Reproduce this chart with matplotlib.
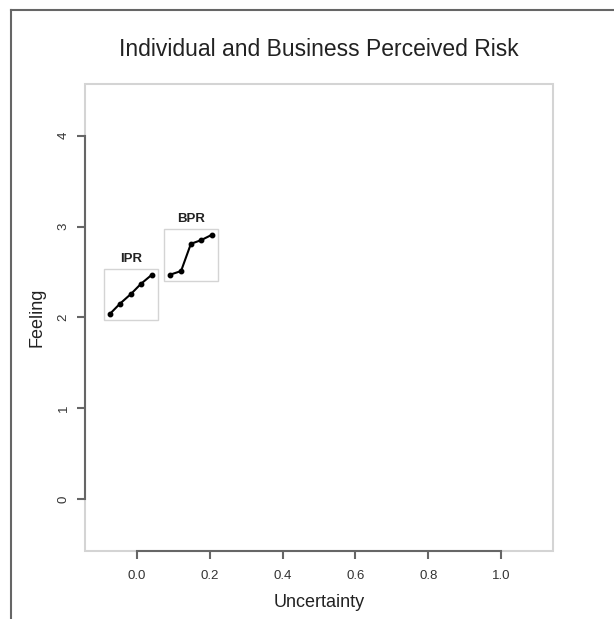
import matplotlib
matplotlib.use("Agg")
import matplotlib.pyplot as plt
from matplotlib.patches import Rectangle
from matplotlib.lines import Line2D

plt.rcParams["font.family"] = ["Liberation Sans", "DejaVu Sans"]

# mini-series drawn inside the main plot (uncertainty vs feeling)
groups = ["IPR", "BPR"]
ipr_x = [-0.074, -0.047, -0.016, 0.011, 0.041]
ipr_y = [2.04, 2.15, 2.26, 2.37, 2.47]
bpr_x = [0.091, 0.121, 0.148, 0.176, 0.206]
bpr_y = [2.47, 2.51, 2.81, 2.85, 2.91]
series_x = [ipr_x, bpr_x]
series_y = [ipr_y, bpr_y]

x_ticks = [0.0, 0.2, 0.4, 0.6, 0.8, 1.0]
y_ticks = [0, 1, 2, 3, 4]

fig = plt.figure(figsize=(6.14, 6.19), dpi=100)
ax = fig.add_axes([0.1384, 0.1099, 0.7623, 0.7544])
ax.set_xlim(-0.143, 1.143)
ax.set_ylim(-0.573, 4.57)

axis_col = "#666666"
box_col = "#d4d4d4"

# light plot box
for s in ax.spines.values():
    s.set_visible(False)
ax.add_patch(Rectangle((0, 0), 1, 1, transform=ax.transAxes, fill=False,
                       edgecolor=box_col, lw=1.5, zorder=1, clip_on=False))
# R-style axes covering tick range only
ax.spines["left"].set_visible(True)
ax.spines["bottom"].set_visible(True)
ax.spines["left"].set_bounds(y_ticks[0], y_ticks[-1])
ax.spines["bottom"].set_bounds(x_ticks[0], x_ticks[-1])
for side in ["left", "bottom"]:
    ax.spines[side].set_color(axis_col)
    ax.spines[side].set_linewidth(1.5)
    ax.spines[side].set_zorder(3)

ax.set_xticks(x_ticks)
ax.set_xticklabels([f"{v:.1f}" for v in x_ticks])
ax.set_yticks(y_ticks)
ax.set_yticklabels([str(v) for v in y_ticks], rotation=90, va="center")
ax.tick_params(axis="both", length=6, width=1.5, color=axis_col,
               labelsize=9.5, labelcolor="#333333")
ax.tick_params(axis="x", pad=8)
ax.tick_params(axis="y", pad=5)

for name, xs, ys in zip(groups, series_x, series_y):
    padx, pady = 0.016, 0.065
    x0, x1 = min(xs) - padx, max(xs) + padx
    y0, y1 = min(ys) - pady, max(ys) + pady
    ax.add_patch(Rectangle((x0, y0), x1 - x0, y1 - y0, fill=False,
                           edgecolor=box_col, lw=1.0, zorder=2))
    ax.plot(xs, ys, color="black", lw=1.5, marker="o", ms=3.2, zorder=4)
    ax.text((x0 + x1) / 2, y1 + 0.04, name, ha="center", va="bottom",
            fontsize=9.5, fontweight="bold", color="#222222")

ax.set_title("Individual and Business Perceived Risk", fontsize=16.5,
             pad=20, color="#222222")
ax.set_xlabel("Uncertainty", fontsize=13, labelpad=8, color="#222222")
ax.set_ylabel("Feeling", fontsize=13, labelpad=9, color="#222222")

# frame lines at top and left of the image
fig.add_artist(Line2D([11 / 614, 11 / 614], [0, 1 - 10 / 619],
                      color="#666666", lw=1.5))
fig.add_artist(Line2D([11 / 614, 1], [1 - 10 / 619, 1 - 10 / 619],
                      color="#666666", lw=1.5))

fig.savefig("out.png", dpi=100)
